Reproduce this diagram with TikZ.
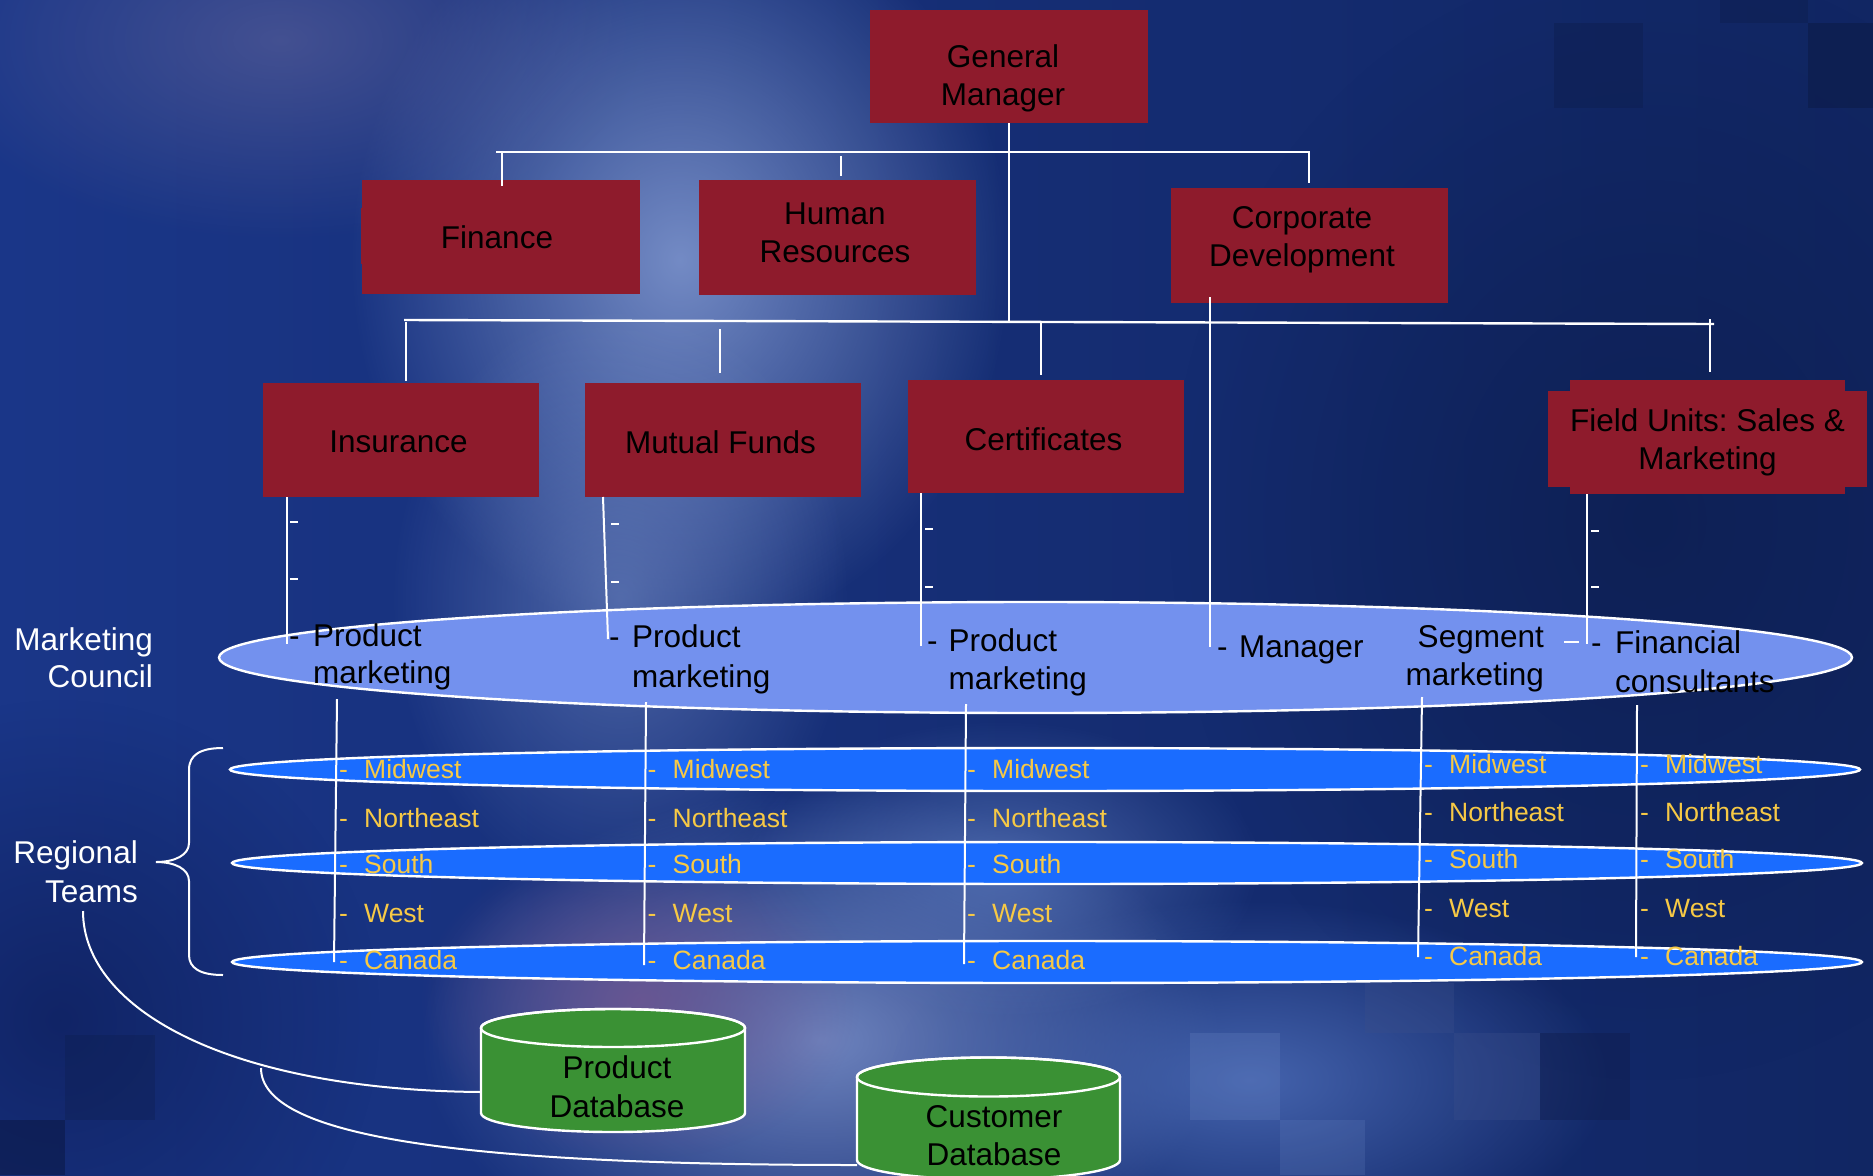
\documentclass[tikz,border=0pt]{standalone}
\usepackage{fontspec}
\setmainfont{Liberation Sans}
\usetikzlibrary{fadings}
\frenchspacing
\definecolor{boxred}{HTML}{8E1B2C}
\definecolor{mcfill}{HTML}{7391EE}
\definecolor{regfill}{HTML}{1A6CFF}
\definecolor{goldtxt}{HTML}{F7C945}
\definecolor{dbgreen}{HTML}{3A9134}
\definecolor{bgleft}{HTML}{1A3688}
\definecolor{bgright}{HTML}{112663}
\definecolor{gdark}{HTML}{0D1F52}
\definecolor{glight}{RGB}{132,155,210}
\definecolor{gpurple}{RGB}{96,100,156}
\definecolor{gbottom}{RGB}{125,146,202}
\definecolor{gviolet}{RGB}{110,85,144}
\definecolor{gblue}{RGB}{77,109,184}
\definecolor{gmid}{RGB}{95,125,192}
\definecolor{gdeep}{HTML}{0F2160}
\definecolor{sqdark}{HTML}{0E1F52}
\definecolor{sqdarker}{HTML}{0C1B48}
\definecolor{sqlight}{HTML}{6C88C6}
\definecolor{sqgrey}{HTML}{3A4E8A}
\definecolor{sqnavy}{HTML}{101E4E}
\definecolor{sqblack}{HTML}{0A1640}
\tikzfading[name=glowfade, inner color=transparent!15, outer color=transparent!100]
\newcommand\dsh[2]{\makebox[#1][l]{-}#2}
\begin{document}
\begin{tikzpicture}[x=1pt,y=-1pt,
  mbox/.style={fill=boxred, inner sep=0pt, outer sep=0pt},
  btext/.style={font=\fontsize{31.5}{38}\selectfont, align=center, inner sep=0pt, text=black},
  ktext/.style={font=\fontsize{31.5}{38}\selectfont, inner sep=0pt, anchor=base west, text=black},
  kctext/.style={font=\fontsize{31.5}{38}\selectfont, inner sep=0pt, anchor=base, text=black},
  ketext/.style={font=\fontsize{31.5}{38}\selectfont, inner sep=0pt, anchor=base east, text=black},
  wtext/.style={font=\fontsize{31.5}{38}\selectfont, inner sep=0pt, anchor=base east, text=white},
  gtext/.style={font=\fontsize{26.5}{30}\selectfont, inner sep=0pt, anchor=base west, text=goldtxt},
  wline/.style={draw=white, line width=2pt},
  bline/.style={draw=white, line width=2.4pt},
  wdash/.style={draw=white, line width=2.6pt},
  rim/.style={draw=white, line width=2.4pt},
  glow/.style={fill=#1, path fading=glowfade},
]
\useasboundingbox (0,0) rectangle (1873,1175);
\clip (0,0) rectangle (1873,1175);
% ---------------- background
\shade[left color=bgleft, right color=bgright] (0,0) rectangle (1873,1175);
\fill[glow=gdark] (1650,520) ellipse [x radius=480, y radius=560];
\fill[glow=gdeep] (60,1020) ellipse [x radius=320, y radius=320];
\fill[glow=glight] (680,260) ellipse [x radius=330, y radius=380];
\fill[glow=glight, fill opacity=0.6] (620,600) ellipse [x radius=230, y radius=300];
\fill[glow=gpurple, fill opacity=0.7] (280,40) ellipse [x radius=360, y radius=200];
\fill[glow=gbottom] (820,1040) ellipse [x radius=400, y radius=250];
\fill[glow=gviolet] (640,1000) ellipse [x radius=220, y radius=160];
\fill[glow=gblue] (1250,1080) ellipse [x radius=360, y radius=180];
\fill[glow=gmid, fill opacity=0.8] (1000,870) ellipse [x radius=260, y radius=150];
% squares
\fill[sqdark, opacity=0.55] (1554,23) rectangle (1643,108);
\fill[sqdark, opacity=0.55] (1720,0) rectangle (1808,23);
\fill[sqdarker, opacity=0.6] (1808,23) rectangle (1873,108);
\fill[sqlight, opacity=0.25] (1190,1033) rectangle (1280,1120);
\fill[sqgrey, opacity=0.35] (1365,983) rectangle (1454,1033);
\fill[sqgrey, opacity=0.35] (1454,1033) rectangle (1540,1120);
\fill[sqnavy, opacity=0.45] (1540,1033) rectangle (1630,1120);
\fill[sqlight, opacity=0.2] (1280,1120) rectangle (1365,1175);
\fill[sqblack, opacity=0.5] (0,1120) rectangle (65,1175);
\fill[sqdark, opacity=0.4] (65,1035) rectangle (155,1120);

% ---------------- boxes
\node[mbox, minimum width=278, minimum height=113] (gm) at (1009,66.5) {};
\fill[boxred] (361,208) rectangle (366,264);
\node[mbox, minimum width=278, minimum height=114] (fin) at (501,237) {};
\node[mbox, minimum width=277, minimum height=115] (hr) at (837.5,237.5) {};
\node[mbox, minimum width=277, minimum height=115] (cd) at (1309.5,245.5) {};
\node[mbox, minimum width=276, minimum height=114] (ins) at (401,440) {};
\node[mbox, minimum width=276, minimum height=114] (mf) at (723,440) {};
\node[mbox, minimum width=276, minimum height=113] (cert) at (1046,436.5) {};
\node[mbox, minimum width=319, minimum height=96] (fun) at (1707.5,439) {};
\node[mbox, minimum width=275, minimum height=114] (fu) at (1707.5,437) {};

\node[btext] (gmt) at (1003,78) {General\\Manager};
\node[btext] (fint) at (497,237) {Finance};
\node[btext] (hrt) at (835,233) {Human\\Resources};
\node[btext] (cdt) at (1302,240) {Corporate\\Development};
\node[btext] (inst) at (398.5,442) {Insurance};
\node[btext] (mft) at (720.5,442) {Mutual Funds};
\node[btext] (certt) at (1043.5,439) {Certificates};
\node[btext] (fut) at (1707.5,442.5) {Field Units: Sales \&\\Marketing};

% ---------------- databases
\filldraw[fill=dbgreen, rim] (481,1028) -- (481,1113) arc[start angle=180, end angle=0, x radius=132, y radius=19]
  -- (745,1028) arc[start angle=0, end angle=-180, x radius=132, y radius=19] -- cycle;
\draw[rim] (613,1028) ellipse [x radius=132, y radius=19];
\filldraw[fill=dbgreen, rim] (857,1077) -- (857,1160) arc[start angle=180, end angle=0, x radius=131.5, y radius=19.5]
  -- (1120,1077) arc[start angle=0, end angle=-180, x radius=131.5, y radius=19.5] -- cycle;
\draw[rim] (988.5,1077) ellipse [x radius=131.5, y radius=19.5];
\node[kctext] (pdb1) at (617,1078) {Product};
\node[kctext] (pdb2) at (617,1117) {Database};
\node[kctext] (cdb1) at (994,1127) {Customer};
\node[kctext] (cdb2) at (994,1165) {Database};
\coordinate (pdbl) at (481,1092);
\coordinate (cdbl) at (857,1165);

% ---------------- ellipses
\filldraw[fill=regfill, rim] (1045,769.5) ellipse [x radius=815, y radius=21.5];
\filldraw[fill=regfill, rim] (1047,863) ellipse [x radius=815, y radius=21];
\filldraw[fill=regfill, rim] (1047,962) ellipse [x radius=815, y radius=21];
\filldraw[fill=mcfill, rim] (1035.5,657.5) ellipse [x radius=816.5, y radius=55.5];

% ---------------- top connectors
\coordinate (b1l) at (496,152);
\coordinate (b1r) at (1309,152);
\coordinate (b2l) at (404,320);
\coordinate (b2r) at (1714,324);
\draw[bline] (b1l) -- (b1r) -- (1309,183);
\draw[wline] (502,152) -- (502,186);
\draw[wline] (841,156) -- (841,176);
\draw[bline] (gm.south) -- (1009,321);
\draw[bline] (b2l) -- (b2r);
\draw[wline] (406,322) -- (406,381);
\draw[wline] (720,329) -- (720,373);
\draw[wline] (1041,322) -- (1041,375);
\draw[wline] (1710,319) -- (1710,372);

% ---------------- connectors to marketing council
\draw[wline] (287,497) -- (287,644);
\draw[wdash] (290,522) -- (298,522);
\draw[wdash] (290,579) -- (298,579);
\draw[wline] (603,497) -- (608,639);
\draw[wdash] (611,524) -- (619,524);
\draw[wdash] (611,582) -- (619,582);
\draw[wline] (921,493) -- (921,646);
\draw[wdash] (925,529) -- (933,529);
\draw[wdash] (925,587) -- (933,587);
\draw[wline] (1210,297) -- (1210,647);
\draw[wline] (1587,494) -- (1587,644);
\draw[wdash] (1591,531) -- (1599,531);
\draw[wdash] (1591,587) -- (1599,587);
\draw[wline] (1564,642) -- (1579,642);

% ---------------- connectors to regional teams
\draw[wline] (337,699) -- (334,962);
\draw[wline] (646,702) -- (644,965);
\draw[wline] (966,704) -- (964,964);
\draw[wline] (1422,697) -- (1418,957);
\draw[wline] (1637,705) -- (1636,957);

% ---------------- council texts
\node[ktext] (pm1) at (289,646) {\dsh{24pt}{Product}};
\node[ktext] (pm1b) at (313,683) {marketing};
\node[ktext] (pm2) at (609,647) {\dsh{23pt}{Product}};
\node[ktext] (pm2b) at (632,687) {marketing};
\node[ktext] (pm3) at (927,651) {\dsh{21.5pt}{Product}};
\node[ktext] (pm3b) at (948.5,689) {marketing};
\node[ktext] (mgr) at (1217,657) {\dsh{22pt}{Manager}};
\node[ketext] (seg) at (1544,647) {Segment};
\node[ketext] (segb) at (1544,685) {marketing};
\node[ktext] (fc) at (1591,653) {\dsh{24pt}{Financial}};
\node[ktext] (fcb) at (1615,692) {consultants};

% ---------------- regional texts
\foreach \t/\ya/\yb [count=\i] in {Midwest/778/773, Northeast/827/821, South/873/868, West/922/917, Canada/969/965} {
  \node[gtext] (ra\i) at (339,\ya) {\dsh{25pt}{\t}};
  \node[gtext] (rb\i) at (647.5,\ya) {\dsh{25pt}{\t}};
  \node[gtext] (rc\i) at (967,\ya) {\dsh{25pt}{\t}};
  \node[gtext] (rd\i) at (1424,\yb) {\dsh{25pt}{\t}};
  \node[gtext] (re\i) at (1640,\yb) {\dsh{25pt}{\t}};
}

% ---------------- side labels
\node[wtext] (mc1) at (153,650) {Marketing};
\node[wtext] (mc2) at (153,687) {Council};
\node[wtext] (rt1) at (138,863) {Regional};
\node[wtext] (rt2) at (138,902) {Teams};

\draw[wline] (223,748) .. controls (200,748) and (189,755) .. (189,770) -- (189,843)
  .. controls (189,855) and (175,862) .. (156,862)
  .. controls (175,862) and (189,869) .. (189,881) -- (189,955)
  .. controls (189,968) and (200,975) .. (223,975);
\coordinate (rtb) at (83,911);
\coordinate (rtc) at (261,1068);
\draw[wline] (rtb) .. controls (83,1010) and (230,1090) .. (pdbl);
\draw[wline] (rtc) .. controls (261,1135) and (450,1165) .. (cdbl);
\end{tikzpicture}
\end{document}
